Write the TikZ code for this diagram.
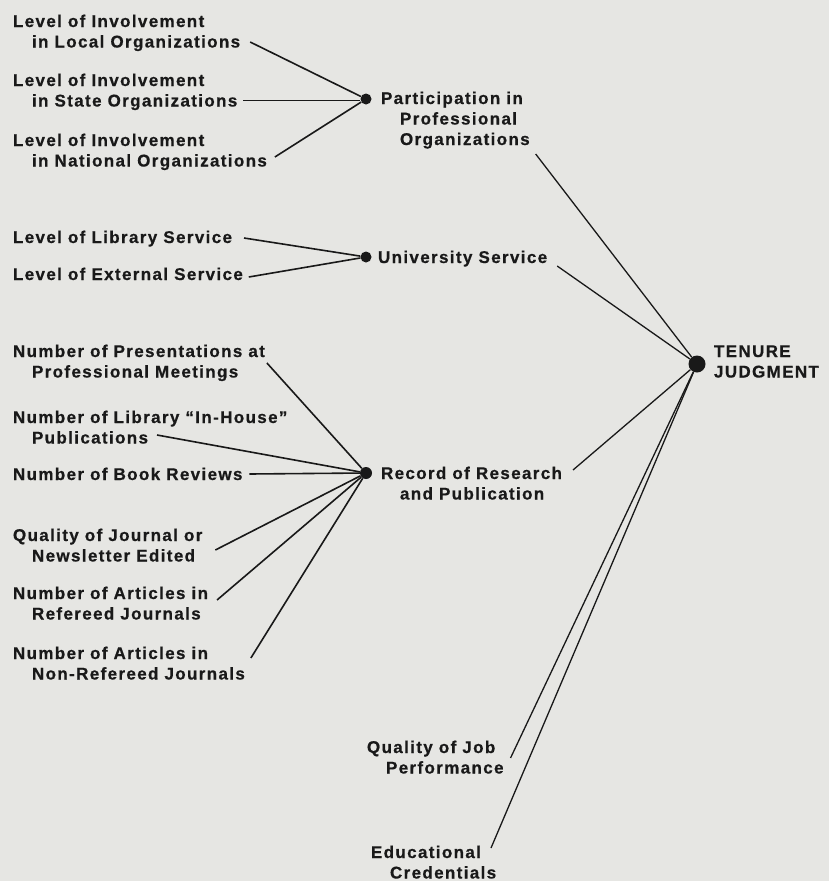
\documentclass[tikz,border=0pt]{standalone}
\usepackage{fontspec}
\setmainfont{Liberation Sans}[LetterSpace=8,BoldFeatures={FakeBold=0.6}]
\definecolor{paper}{RGB}{230,230,227}
\definecolor{ink}{RGB}{25,25,25}
\newcommand{\nextline}{\\\hspace*{19pt}}
\begin{document}
\begin{tikzpicture}[x=1pt,y=-1pt,
  lbl/.style={align=left,anchor=base west,inner sep=0,outer sep=0,text=ink,font=\bfseries\fontsize{17}{20.5}\selectfont},
  dot/.style={circle,fill=ink,inner sep=0,minimum size=11pt},
  wire/.style={draw=ink,line width=1.6pt}]

\fill[paper] (0,0) rectangle (829,881);
\useasboundingbox (0,0) rectangle (829,881);

\draw(13,47.5) node[lbl](1){Level of Involvement\nextline in Local Organizations};

\draw(13,106.5) node[lbl](2){Level of Involvement\nextline in State Organizations};

\draw(13,166.5) node[lbl](3){Level of Involvement\nextline in National Organizations};

\draw(366,99) node[dot](4){};

\draw(381,145) node[lbl](5){Participation in\nextline Professional\nextline Organizations};

\draw(13,243) node[lbl](6){Level of Library Service};

\draw(13,280) node[lbl](7){Level of External Service};

\draw(366,257) node[dot](8){};

\draw(378,263) node[lbl](9){University Service};

\draw(13,377.5) node[lbl](10){Number of Presentations at\nextline Professional Meetings};

\draw(13,443.5) node[lbl](11){Number of Library ``In-House''\nextline Publications};

\draw(13,480) node[lbl](12){Number of Book Reviews};

\draw(13,561.5) node[lbl](13){Quality of Journal or\nextline Newsletter Edited};

\draw(13,619.5) node[lbl](14){Number of Articles in\nextline Refereed Journals};

\draw(13,679.5) node[lbl](15){Number of Articles in\nextline Non-Refereed Journals};

\draw(366,473) node[dot,minimum size=12pt](16){};

\draw(381,499.5) node[lbl](17){Record of Research\nextline and Publication};

\draw(697,364) node[dot,minimum size=17pt](18){};

\draw(714,377.5) node[lbl](19){TENURE\\JUDGMENT};

\draw(367,773.5) node[lbl](20){Quality of Job\nextline Performance};

\draw(371,878.5) node[lbl](21){Educational\nextline Credentials};

\draw [wire] ([shift={(10,-5.5)}]1.base east) -- (4);
\draw [wire,double=paper,double distance=1.2pt,line width=0.9pt] ([shift={(6,-7.5)}]2.base east) -- (4);
\draw [wire] ([shift={(8,-9.5)}]3.base east) -- (4);
\draw [wire] ([shift={(12,-5)}]6.base east) -- (8);
\draw [wire] ([shift={(6,-3)}]7.base east) -- (8);
\draw [wire] ([shift={(2,-14.5)}]10.base east) -- (16);
\draw [wire] ([shift={(144,-8.5)}]11.base west) -- (16);
\draw [wire] ([shift={(7,-6)}]12.base east) -- (16);
\draw [wire] ([shift={(13,-11.5)}]13.base east) -- (16);
\draw [wire] ([shift={(9,-19.5)}]14.base east) -- (16);
\draw [wire] ([shift={(6,-21.5)}]15.base east) -- (16);
\draw [wire,line width=1.3pt] ([shift={(6,9)}]5.base east) -- (18);
\draw [wire,line width=1.3pt] ([shift={(10,3)}]9.base east) -- (18);
\draw [wire,line width=1.3pt] ([shift={(11,-29.5)}]17.base east) -- (18);
\draw [wire,line width=1.3pt] ([shift={(7,-15.5)}]20.base east) -- (18);
\draw [wire,line width=1.3pt] ([shift={(120,-30.5)}]21.base west) -- (18);

\end{tikzpicture}
\end{document}
